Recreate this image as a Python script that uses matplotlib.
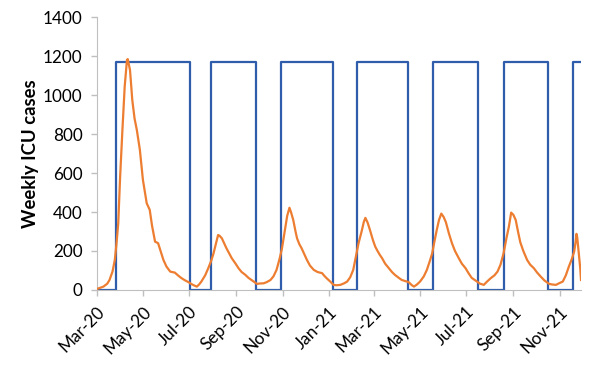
import matplotlib
matplotlib.use("Agg")
import matplotlib.pyplot as plt
import matplotlib.dates as mdates
import numpy as np
import pandas as pd

# start of the series, day offsets are counted from here
start = pd.Timestamp("2020-03-01")

# weekly ICU cases (orange): day offset / value
icu_days = [0, 4, 9, 14, 17, 21, 24, 26, 28.5, 31, 34, 37, 40, 41, 44, 47, 50, 53, 57, 61,
            66, 70, 73, 77, 81, 85, 88, 92, 97, 103, 108, 112, 117, 121, 125, 129, 132, 135, 138, 143,
            147, 151, 154, 158, 160, 162, 165, 168, 171, 175, 178, 183, 187, 191, 196, 200, 204, 208, 211, 215,
            220, 224, 229, 233, 237, 241, 244, 248, 251, 254, 256, 259, 262, 264, 267, 270, 274, 277, 281, 286,
            291, 297, 300, 303, 308, 312, 316, 321, 326, 330, 334, 338, 342, 345, 349, 352, 354, 357, 360, 364,
            367, 370, 373, 376, 380, 385, 389, 393, 398, 402, 407, 411, 415, 418, 422, 426, 431, 435, 439, 442,
            445, 448, 451, 454, 457, 460, 464, 468, 472, 477, 481, 486, 490, 494, 501, 505, 510, 514, 519, 524,
            528, 532, 536, 540, 543, 546, 549, 552, 555, 558, 562, 567, 571, 576, 580, 585, 590, 596, 600, 605,
            609, 614, 618, 622, 626, 629, 631, 632, 633, 635, 637, 638]
icu_cases = [5, 10, 17, 32, 51, 95, 154, 230, 342, 582, 821, 1044, 1181, 1185, 1129, 975, 880, 821, 719, 565,
             445, 411, 330, 248, 240, 190, 154, 120, 94, 89, 72, 60, 48, 40, 30, 22, 17, 28, 43, 75,
             111, 150, 188, 250, 282, 278, 265, 240, 214, 185, 163, 135, 111, 92, 77, 62, 51, 40, 31, 33,
             34, 40, 51, 70, 103, 160, 210, 308, 380, 422, 400, 359, 300, 265, 235, 214, 180, 154, 125, 103,
             92, 86, 72, 60, 42, 26, 24, 26, 34, 43, 65, 103, 180, 240, 300, 350, 370, 345, 308, 255,
             222, 200, 180, 163, 135, 111, 92, 77, 62, 51, 45, 40, 25, 17, 28, 43, 70, 103, 150, 188,
             250, 308, 360, 392, 375, 348, 290, 240, 200, 163, 135, 111, 85, 62, 43, 32, 26, 42, 60, 75,
             94, 130, 188, 270, 325, 397, 385, 359, 300, 245, 200, 154, 130, 111, 90, 68, 48, 31, 28, 26,
             34, 43, 75, 120, 160, 197, 250, 288, 270, 188, 110, 51]

# restriction periods (blue square wave): on / off day offsets
on_days = [26, 151, 243, 343, 443, 536, 627]
off_days = [123, 210, 311, 410, 502, 595, 638]
on_level = 1170

# tick labels every two months
tick_months = pd.date_range("2020-03-01", "2021-11-01", freq="2MS")

icu_dates = start + pd.to_timedelta(icu_days, unit="D")

# build the step line from the periods
step_x = [0]
step_y = [0]
for a, b in zip(on_days, off_days):
    step_x += [a, a, b]
    step_y += [0, on_level, on_level]
    if b != off_days[-1]:
        step_x += [b]
        step_y += [0]
step_dates = start + pd.to_timedelta(step_x, unit="D")

plt.rcParams["font.family"] = ["Lato", "DejaVu Sans"]

fig = plt.figure(figsize=(6, 3.67), dpi=100)
ax = fig.add_axes([0.161, 0.21, 0.808, 0.743])

ax.plot(step_dates, step_y, color="#2F5DAB", linewidth=1.6, zorder=2)
ax.plot(icu_dates, icu_cases, color="#ED7D31", linewidth=1.6, zorder=3)

ax.set_ylim(0, 1400)
ax.set_yticks(np.arange(0, 1401, 200))
ax.set_xlim(start, start + pd.Timedelta(days=638.5))
ax.set_xticks(tick_months)
ax.xaxis.set_major_formatter(mdates.DateFormatter("%b-%y"))

for lab in ax.get_xticklabels():
    lab.set_rotation(45)
    lab.set_ha("right")
    lab.set_rotation_mode("anchor")

ax.tick_params(axis="both", labelsize=12.3, colors="#BFBFBF", labelcolor="black",
               length=4, width=1)
ax.tick_params(axis="x", pad=6)
ax.tick_params(axis="y", pad=6)

ax.spines["top"].set_visible(False)
ax.spines["right"].set_visible(False)
ax.spines["left"].set_color("#BFBFBF")
ax.spines["bottom"].set_color("#BFBFBF")

ax.set_ylabel("Weekly ICU cases", fontsize=13.3, fontweight="bold", labelpad=3)

fig.savefig("out.png", dpi=100)
